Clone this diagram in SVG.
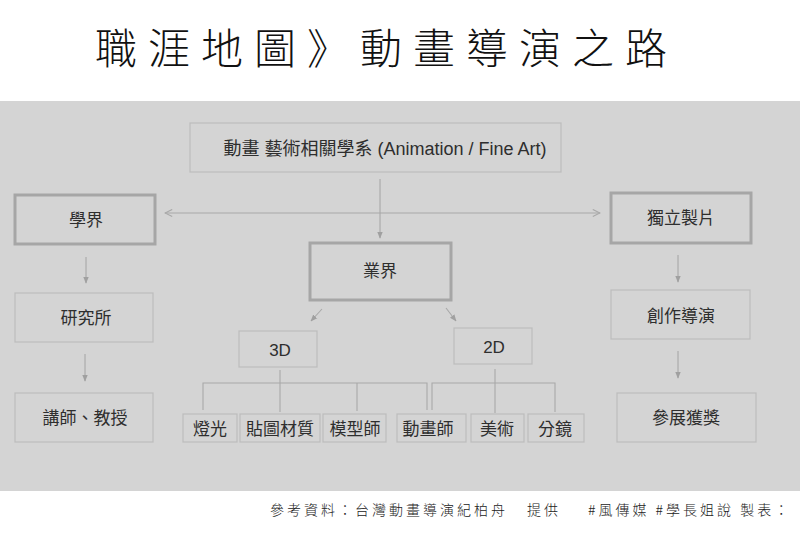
<svg xmlns="http://www.w3.org/2000/svg" width="800" height="533" viewBox="0 0 800 533">
<defs>
<style>
.t{font-family:"Liberation Sans","Noto Sans CJK TC",sans-serif;font-size:17px;fill:#2e2e2e;text-anchor:middle;dominant-baseline:central}
.thin{fill:none;stroke:#bdbdbd;stroke-width:1.2}
.thick{fill:none;stroke:#a6a6a6;stroke-width:3}
.c{fill:none;stroke:#a8a8a8;stroke-width:1.1}
.title{font-family:"Noto Sans CJK TC",sans-serif;font-weight:300;font-size:42px;fill:#111;letter-spacing:11px}
.foot{font-family:"Noto Sans CJK TC",sans-serif;font-weight:300;font-size:14px;fill:#222;letter-spacing:3px}
</style>
<marker id="ah" viewBox="0 0 10 10" refX="9" refY="5" markerWidth="7" markerHeight="7" orient="auto-start-reverse" markerUnits="userSpaceOnUse">
<path d="M0,1 L10,5 L0,9 z" fill="#a0a0a0"/>
</marker>
<marker id="oh" viewBox="0 0 10 10" refX="9" refY="5" markerWidth="9" markerHeight="9" orient="auto-start-reverse" markerUnits="userSpaceOnUse">
<path d="M1,1 L9,5 L1,9" fill="none" stroke="#a8a8a8" stroke-width="1.2"/>
</marker>
</defs>
<rect x="0" y="0" width="800" height="533" fill="#ffffff"/>
<rect x="0" y="101" width="800" height="390" fill="#d4d4d4"/>
<text class="title" x="95" y="64">職涯地圖》動畫導演之路</text>

<g id="connectors">
<line class="c" x1="165" y1="213" x2="600" y2="213" marker-start="url(#oh)" marker-end="url(#oh)"/>
<line class="c" x1="380" y1="179" x2="380" y2="238" marker-end="url(#ah)"/>
<line class="c" x1="86" y1="257" x2="86" y2="283" marker-end="url(#ah)"/>
<line class="c" x1="85" y1="354" x2="85" y2="381" marker-end="url(#ah)"/>
<line class="c" x1="678" y1="255" x2="678" y2="282" marker-end="url(#ah)"/>
<line class="c" x1="678" y1="351" x2="678" y2="378" marker-end="url(#ah)"/>
<line class="c" x1="322" y1="309" x2="311" y2="321" marker-end="url(#ah)"/>
<line class="c" x1="446" y1="308" x2="456" y2="321" marker-end="url(#ah)"/>
<path class="c" d="M280,370 V412 M203,410 V383 H427 V410 M357,383 V411"/>
<path class="c" d="M495,369 V413 M432,410 V383 H555 V412"/>
</g>

<g id="n-top"><rect class="thin" x="190" y="123" width="371" height="49"/><text class="t" x="385" y="149" style="font-size:18px">動畫 藝術相關學系 (Animation / Fine Art)</text></g>
<g id="n-academia"><rect class="thick" x="15" y="195" width="140" height="49"/><text class="t" x="86" y="220">學界</text></g>
<g id="n-indie"><rect class="thick" x="611" y="193" width="140" height="50"/><text class="t" x="681" y="218">獨立製片</text></g>
<g id="n-industry"><rect class="thick" x="310" y="243" width="141" height="57"/><text class="t" x="380" y="271">業界</text></g>
<g id="n-grad"><rect class="thin" x="15" y="293" width="138" height="49"/><text class="t" x="86" y="318">研究所</text></g>
<g id="n-prof"><rect class="thin" x="15" y="393" width="138" height="49"/><text class="t" x="85" y="418">講師、教授</text></g>
<g id="n-director"><rect class="thin" x="611" y="290" width="139" height="49"/><text class="t" x="681" y="316">創作導演</text></g>
<g id="n-award"><rect class="thin" x="617" y="393" width="139" height="49"/><text class="t" x="686" y="418">參展獲獎</text></g>
<g id="n-3d"><rect class="thin" x="239" y="331" width="78" height="36"/><text class="t" x="280" y="350">3D</text></g>
<g id="n-2d"><rect class="thin" x="454" y="328" width="78" height="36"/><text class="t" x="494" y="347">2D</text></g>
<g id="n-light"><rect class="thin" x="183" y="414" width="54" height="28"/><text class="t" x="210" y="429">燈光</text></g>
<g id="n-texture"><rect class="thin" x="240" y="414" width="80" height="28"/><text class="t" x="280" y="429">貼圖材質</text></g>
<g id="n-model"><rect class="thin" x="323" y="414" width="63" height="28"/><text class="t" x="355" y="429">模型師</text></g>
<g id="n-anim"><rect class="thin" x="397" y="414" width="69" height="28"/><text class="t" x="428" y="429">動畫師</text></g>
<g id="n-art"><rect class="thin" x="471" y="414" width="53" height="28"/><text class="t" x="497" y="429">美術</text></g>
<g id="n-story"><rect class="thin" x="528" y="414" width="56" height="28"/><text class="t" x="555" y="429">分鏡</text></g>

<text class="foot" x="270" y="515">參考資料：台灣動畫導演紀柏舟</text>
<text class="foot" x="527" y="515">提供</text>
<text class="foot" x="588" y="515">#風傳媒 #學長姐說 製表：</text>
</svg>
